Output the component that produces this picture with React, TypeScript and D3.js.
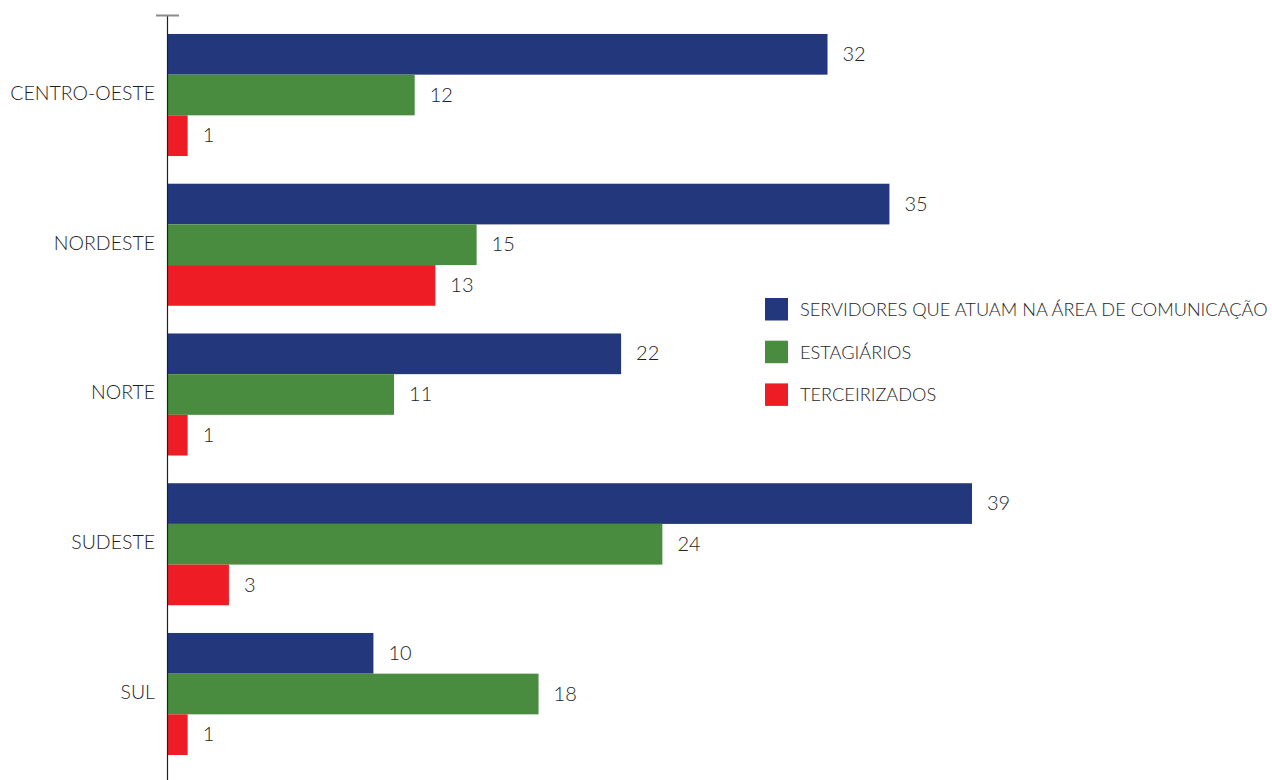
import React from "react";
import * as d3 from "d3";

const categories = ["CENTRO-OESTE", "NORDESTE", "NORTE", "SUDESTE", "SUL"];
const seriesNames = [
  "SERVIDORES QUE ATUAM NA ÁREA DE COMUNICAÇÃO",
  "ESTAGIÁRIOS",
  "TERCEIRIZADOS",
];
const servidores = [32, 35, 22, 39, 10];
const estagiarios = [12, 15, 11, 24, 18];
const terceirizados = [1, 13, 1, 3, 1];
const seriesColors = ["#22377c", "#4a8c3f", "#ee1d25"];

const W = 1272;
const H = 780;
const FONT = "Lato, 'Open Sans', sans-serif";
const TEXT = "#1e1e1e";

export default function App() {
  const series = [servidores, estagiarios, terceirizados];
  const x = d3.scaleLinear().domain([0, 39]).range([167, 972]);
  const y = d3
    .scaleBand<string>()
    .domain(categories)
    .range([19, 770])
    .paddingInner(0.185)
    .paddingOuter(0.1);
  const inner = d3
    .scaleBand<number>()
    .domain([0, 1, 2])
    .range([0, y.bandwidth()]);

  return (
    <svg
      width={W}
      height={H}
      style={{ position: "absolute", left: 0, top: 0, background: "#fff" }}
      fontFamily={FONT}
      fontWeight={300}
    >
      {categories.map((c, ci) => (
        <g key={c} transform={`translate(0,${y(c)})`}>
          {series.map((s, si) => {
            const v = s[ci];
            const yy = inner(si)!;
            return (
              <g key={si}>
                <rect
                  x={x(0)}
                  y={yy}
                  width={x(v) - x(0)}
                  height={inner.bandwidth()}
                  fill={seriesColors[si]}
                />
                <text
                  x={x(v) + 15}
                  y={yy + inner.bandwidth() / 2}
                  dy="0.33em"
                  fontSize={20}
                  fill={TEXT}
                >
                  {v}
                </text>
              </g>
            );
          })}
          <text
            x={155}
            y={y.bandwidth() / 2 - 2}
            dy="0.35em"
            textAnchor="end"
            fontSize={19.5}
            fill={TEXT}
          >
            {c}
          </text>
        </g>
      ))}
      <line x1={167.5} x2={167.5} y1={15} y2={H} stroke="#231f20" strokeWidth={1.2} />
      <line x1={156} x2={179} y1={15.5} y2={15.5} stroke="#8a8a8a" strokeWidth={2} />
      {seriesNames.map((n, i) => (
        <g key={n} transform={`translate(765,${298 + i * 42.7})`}>
          <rect width={23} height={22.5} fill={seriesColors[i]} />
          <text x={35} y={11.5} dy="0.35em" fontSize={18.2} fill={TEXT}>
            {n}
          </text>
        </g>
      ))}
    </svg>
  );
}
